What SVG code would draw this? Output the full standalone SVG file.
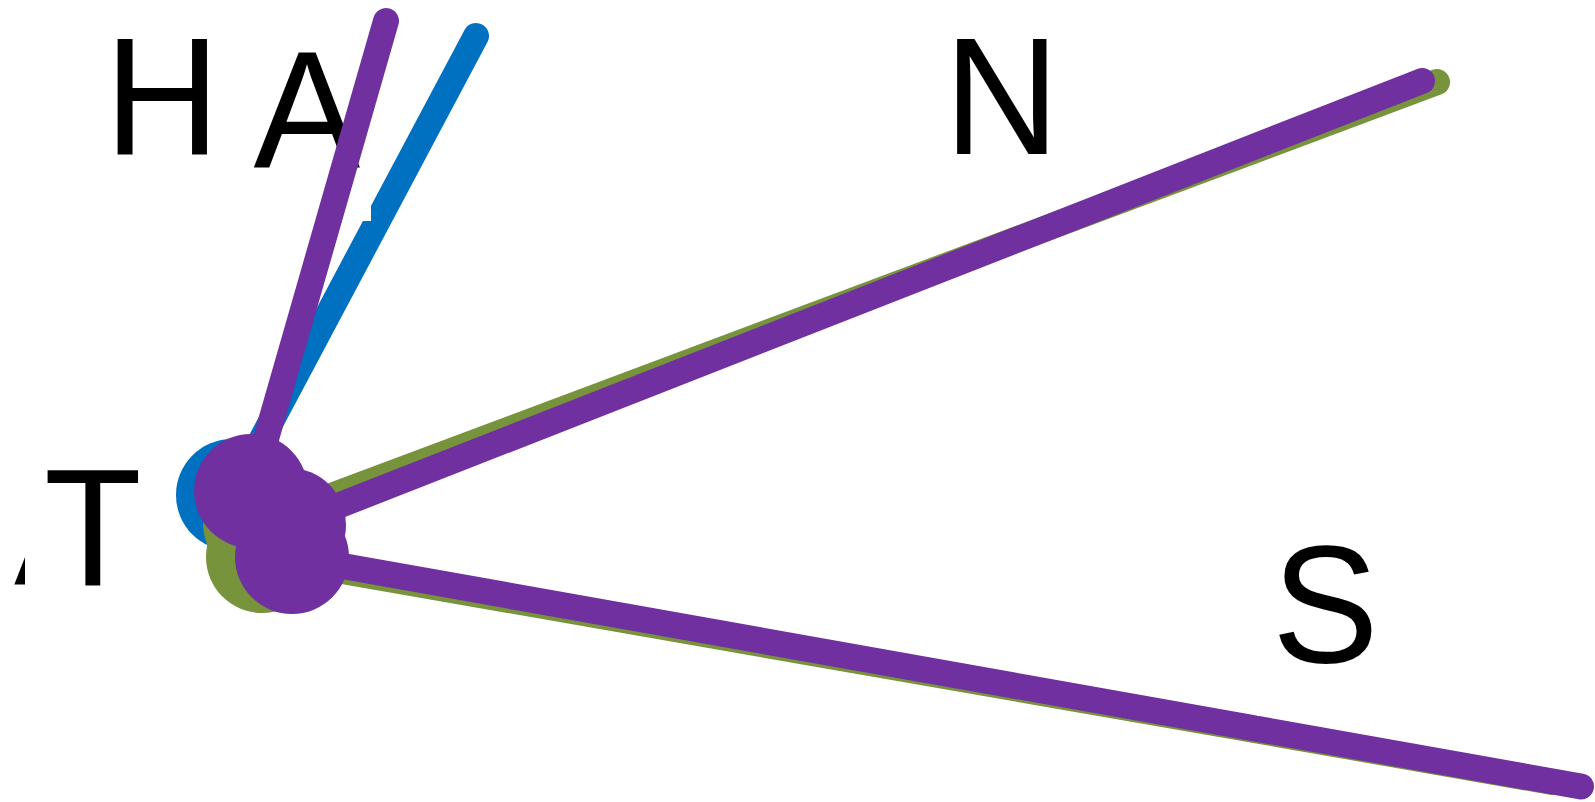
<svg xmlns="http://www.w3.org/2000/svg" width="1595" height="802" viewBox="0 0 1595 802">
<style>
  .edge { fill: none; stroke-width: 26; stroke-linecap: round; }
  .blue { stroke: #0070C0; }
  .green { stroke: #77933C; }
  .purple { stroke: #7030A0; }
  .nb { fill: #0070C0; }
  .ng { fill: #77933C; }
  .np { fill: #7030A0; }
  .bg { fill: #FFFFFF; }
  .lbl { font-family: "Liberation Sans", Arial, sans-serif; font-size: 160px; fill: #000000; }
</style>
<rect width="1595" height="802" fill="#FFFFFF"/>

<g id="connectors-blue" class="connectors">
  <line class="edge blue" x1="232" y1="495" x2="476" y2="36"/>
</g>
<g id="node-T-blue">
  <circle class="nb" cx="232" cy="495" r="56"/>
</g>

<g id="label-A">
  <rect class="bg" x="243" y="18" width="128" height="203"/>
  <text class="lbl" transform="translate(253.5 168) scale(1 1.041)">A</text>
</g>

<g id="connectors-green" class="connectors">
  <line class="edge green" x1="259" y1="523" x2="1437" y2="82"/>
  <line class="edge green" x1="262" y1="557" x2="1552" y2="782"/>
</g>
<g id="node-T-green-1">
  <circle class="ng" cx="259" cy="523" r="56"/>
</g>
<g id="node-T-green-2">
  <circle class="ng" cx="262" cy="557" r="56"/>
</g>

<g id="connectors-purple" class="connectors">
  <line class="edge purple" x1="251" y1="491" x2="386" y2="21"/>
  <line class="edge purple" x1="289" y1="525" x2="1422" y2="81"/>
  <line class="edge purple" x1="292" y1="557" x2="1581" y2="786.5"/>
</g>
<g id="node-T-purple-1">
  <circle class="np" cx="251" cy="491" r="57"/>
</g>
<g id="node-T-purple-2">
  <circle class="np" cx="289" cy="525" r="57"/>
</g>
<g id="node-T-purple-3">
  <circle class="np" cx="292" cy="557" r="57"/>
</g>

<g id="label-S">
  <rect class="bg" x="1257" y="512" width="136" height="204"/>
  <text class="lbl" transform="translate(1272 662) scale(1 1.041)">S</text>
</g>

<g id="label-A-left">
  <text class="lbl" transform="translate(14 585) scale(1 1.041)">A</text>
</g>
<g id="label-T">
  <rect class="bg" x="25" y="435" width="136" height="204"/>
  <text class="lbl" transform="translate(44 585) scale(1 1.041)">T</text>
</g>

<g id="label-H">
  <text class="lbl" transform="translate(104.5 154) scale(1 1.041)">H</text>
</g>

<g id="label-N">
  <text class="lbl" transform="translate(944 154) scale(1 1.041)">N</text>
</g>
</svg>
